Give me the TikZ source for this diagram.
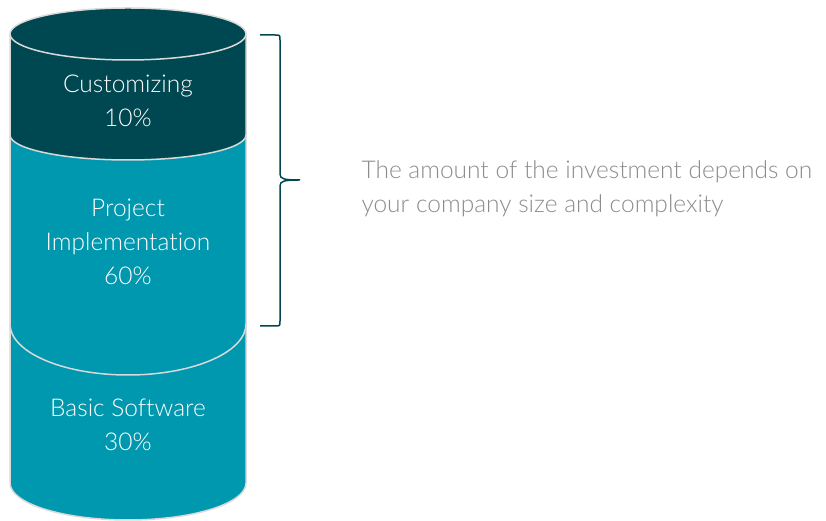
\documentclass[tikz,border=0pt]{standalone}
\usepackage{fontspec}
\setmainfont{Lato Light}[Ligatures=NoCommon]
\definecolor{darkteal}{RGB}{0,72,81}
\definecolor{midteal}{RGB}{0,152,175}
\definecolor{rimgray}{RGB}{217,217,217}
\definecolor{notegray}{RGB}{140,140,140}

\begin{document}
\begin{tikzpicture}[x=1pt, y=1pt,
    label/.style={text=white, align=center, font=\fontsize{24.5}{34}\selectfont},
    rim/.style={draw=rimgray, line width=1.5pt}]
    \useasboundingbox (0,0) rectangle (826,521);

    % basic software part
    \fill[midteal] (10,197) -- (10,38) arc[start angle=180, end angle=360, x radius=118, y radius=37] -- (246,197) -- cycle;
    \draw[rim] (10,197) -- (10,38) arc[start angle=180, end angle=360, x radius=118, y radius=37] -- (246,197);

    % project implementation part
    \fill[midteal] (10,386) -- (10,197) arc[start angle=180, end angle=360, x radius=118, y radius=51] -- (246,386) -- cycle;
    \draw[rim] (10,386) -- (10,197) arc[start angle=180, end angle=360, x radius=118, y radius=51] -- (246,386);

    % customizing part
    \fill[darkteal] (10,487) -- (10,386) arc[start angle=180, end angle=360, x radius=118, y radius=25] -- (246,487) -- cycle;
    \draw[rim] (10,487) -- (10,386) arc[start angle=180, end angle=360, x radius=118, y radius=25] -- (246,487);
    \draw[rim, fill=darkteal] (128,487) ellipse[x radius=118, y radius=26];

    \node[label] (custom) at (128,420) {Customizing\\10\%};
    \node[label] (project) at (128,279) {Project\\Implementation\\60\%};
    \node[label] (basic) at (128,96) {Basic Software\\30\%};

    % brace
    \coordinate (bracetop) at (260,486);
    \coordinate (bracetip) at (300,341);
    \coordinate (bracebot) at (260,195);
    \draw[darkteal, line width=1.5pt] (bracetop) -- (275,486) .. controls (280,486) .. (280,481)
        -- (280,347) .. controls (280,342) and (284,341) .. (bracetip)
        .. controls (284,341) and (280,340) .. (280,335)
        -- (280,200) .. controls (280,195) .. (275,195) -- (bracebot);

    \node[anchor=west, text=notegray, align=left, font=\fontsize{24.5}{34}\selectfont] (note) at (358,332)
        {The amount of the investment depends on\\your company size and complexity};
\end{tikzpicture}
\end{document}
